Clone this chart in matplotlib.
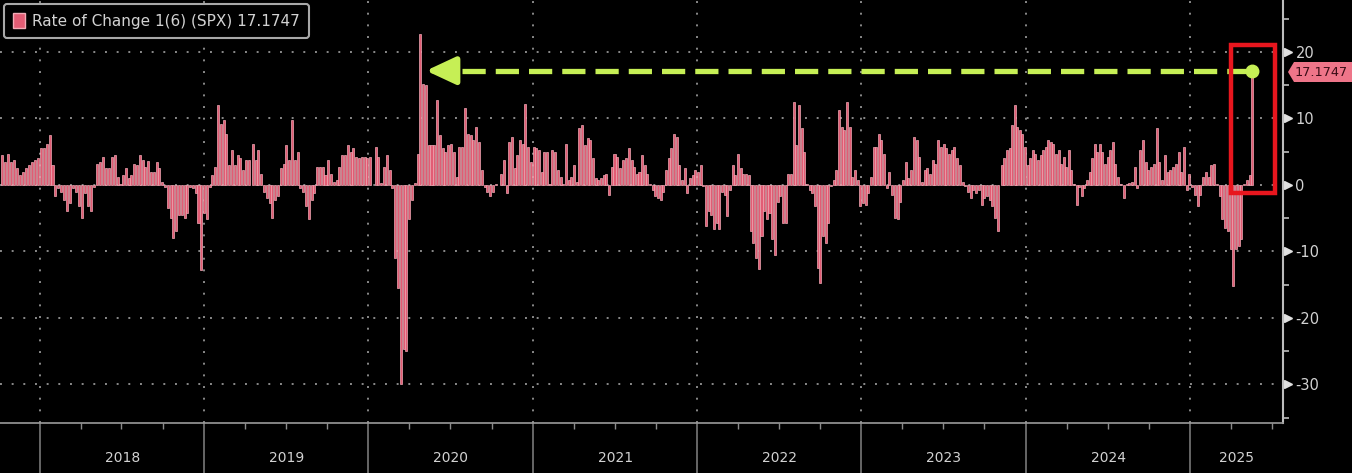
# 6-period rate of change of SPX, Bloomberg-style dark chart
import numpy as np
import pandas as pd
import matplotlib
matplotlib.use("Agg")
import matplotlib.pyplot as plt
import matplotlib.dates as mdates
import matplotlib.transforms as mtransforms
from matplotlib.patches import Patch, Rectangle, Polygon

plt.rcParams["axes.unicode_minus"] = False

# values, chunk by chunk (left to right)
roc_2017q4 = [4.5, 3.5, 4.7, 3.5, 3.7, 2.5, 1.5, 2.0, 2.5, 3.0, 3.5, 3.8, 4.0, 5.5, 5.5, 6.2, 7.5, 3.0,
              -1.7, -0.5, -1.0, -2.2, -4.0, -2.7, -0.5, -1.0, -3.2, -5.0, -1.2, -3.2, -4.0, -0.3,
              3.2, 3.5, 4.2, 2.5, 2.5, 4.2, 4.5, 1.2, 0.2, 1.5, 2.5]
roc_2018h2 = [1.0, 1.5, 3.2, 3.0, 4.5, 3.7, 2.7, 3.6, 2.0, 2.0, 3.5, 2.5, 0.5, -0.3, -3.5, -5.0, -8.0,
              -7.0, -4.5, -4.5, -5.0, -4.2, -0.3, -0.5, -1.2, -5.8, -12.8, -4.2, -5.2, -0.3, 1.5, 2.7,
              12.0, 9.2, 9.7, 7.7, 3.0, 5.2, 3.0, 4.5, 4.0, 2.2, 3.7, 3.7]
roc_2019 = [6.2, 3.7, 5.3, 1.7, -1.0, -2.0, -2.7, -5.0, -2.2, -1.7, 2.5, 3.2, 6.0, 3.7, 9.7, 3.7, 5.0,
            -0.5, -1.0, -3.2, -5.2, -2.2, -1.2, 2.7, 2.7, 2.7, 1.5, 3.7, 1.7, 0.5, 0.7, 2.7, 4.5, 4.5,
            6.0, 5.0, 5.5, 4.2, 4.0, 4.2, 4.2, 4.0, 4.2]
roc_2020 = [5.7, 4.2, 0.3, 2.7, 4.5, 2.2, -0.5, -11.0, -15.5, -30.0, -24.7, -25.0, -5.2, -2.2, 0.3,
            4.7, 22.7, 15.2, 15.0, 6.0, 6.0, 6.0, 12.7, 7.5, 5.5, 5.0, 6.0, 6.2, 5.0, 1.2, 5.7, 5.7,
            11.5, 7.7, 7.5, 6.7, 8.7, 6.5, 2.2, -0.3, -1.0, -1.7, -1.0, 0.2]
roc_2021h1 = [1.7, 3.8, -1.2, 6.5, 7.2, 2.5, 4.5, 6.7, 6.2, 12.2, 5.7, 3.5, 5.7, 5.5, 5.2, 2.0, 5.0,
              5.0, 0.2, 5.2, 5.0, 2.2, 1.2, 0.2, 6.2, 0.7, 1.2, 3.0, 0.5, 8.5, 9.0, 6.0, 7.0, 6.7,
              4.0, 1.0, 0.7, 1.0, 1.5, 1.7, -1.5, 2.7, 4.7, 4.2, 2.5, 3.7]
roc_2021h2 = [4.0, 5.5, 3.7, 2.7, 1.7, 2.0, 4.5, 3.0, 1.7, 0.2, -0.7, -1.7, -2.0, -2.2, -1.0, 2.2, 4.0,
              5.5, 7.7, 7.2, 3.0, 0.7, 2.5, -1.2, 1.0, 1.5, 2.2, 2.0, 3.0, -0.2, -6.2, -4.0, -4.5,
              -6.7, -5.7, -6.7, -1.0, -1.5, -4.7, -0.7, 3.0, 1.5, 4.7, 2.5, 1.7, 1.7, 1.5]
roc_2022 = [-7.0, -8.7, -11.0, -12.7, -7.7, -4.0, -5.2, -4.2, -8.2, -10.5, -2.5, -1.7, -5.7, -5.7,
            1.7, 1.7, 12.5, 6.0, 12.0, 8.5, 5.0, 0.2, -0.7, -1.2, -3.2, -12.5, -14.7, -7.7, -8.7,
            -5.7, -0.2, 0.7, 2.2, 11.2, 8.7, 8.2, 12.5, 8.7, 1.2, 2.2, 0.7, -3.2, -2.7, -3.0, -1.2,
            1.2, 5.7]
roc_2023 = [5.7, 7.7, 6.7, 4.7, -0.5, 2.0, -1.5, -5.0, -5.2, -2.5, 0.7, 3.5, 1.0, 2.2, 7.2, 6.7, 4.2,
            0.5, 2.2, 2.5, 1.7, 3.7, 3.2, 6.7, 5.7, 6.2, 5.5, 4.7, 5.2, 5.7, 4.0, 3.0, 0.5, -0.2,
            -1.0, -2.0, -0.7, -1.2, -0.7, -3.0, -2.0, -1.7, -2.2, -3.2, -5.0, -7.0]
roc_2024h1 = [3.0, 4.0, 5.2, 5.5, 9.0, 12.0, 8.7, 8.2, 7.7, 5.7, 3.0, 4.0, 5.2, 4.7, 3.7, 4.5, 5.2,
              5.7, 6.7, 6.5, 6.2, 4.7, 5.2, 3.2, 4.2, 2.7, 5.2, 2.2, 0.2, -3.0, -0.3, -1.7, -0.5,
              0.7, 2.0, 4.0, 6.2, 5.0, 6.2, 5.0, 3.2, 4.2, 5.2, 6.5, 3.2, 1.2]
roc_2024h2 = [0.2, -2.0, 0.2, 0.3, 0.5, 2.7, -0.5, 5.2, 6.7, 3.5, 2.2, 2.7, 3.2, 8.5, 3.5, 0.7, 4.5,
              2.0, 2.2, 2.7, 3.2, 5.0, 2.0, 5.7, -0.7, 1.7, -0.3, -1.5, -3.2, -1.5, 1.2, 2.0, 1.2,
              3.0, 3.2, 0.2, -1.7, -5.2, -6.5, -7.0, -9.7, -15.2, -9.7, -9.2, -8.2, 0.2, 0.7, 1.5,
              17.1747]

chunks = [roc_2017q4, roc_2018h2, roc_2019, roc_2020, roc_2021h1,
          roc_2021h2, roc_2022, roc_2023, roc_2024h1, roc_2024h2]
# first / last observation date of each chunk
chunk_spans = [("2017-10-09", "2018-07-12"), ("2018-07-17", "2019-04-10"),
               ("2019-04-19", "2020-01-05"), ("2020-01-17", "2020-10-10"),
               ("2020-10-22", "2021-07-19"), ("2021-07-27", "2022-04-25"),
               ("2022-04-30", "2023-01-28"), ("2023-02-02", "2023-10-31"),
               ("2023-11-09", "2024-07-24"), ("2024-07-31", "2025-05-19")]

dates = pd.DatetimeIndex(np.concatenate(
    [pd.date_range(s, e, periods=len(v)).values for v, (s, e) in zip(chunks, chunk_spans)]))
roc = np.concatenate([np.array(v, dtype=float) for v in chunks])
last_val = roc[-1]
last_date = dates[-1]

PINK = "#e25c74"
GREEN = "#c6ef55"
GRID = "#8a8a8a"
TXT = "#d2d2d2"

fig = plt.figure(figsize=(13.52, 4.73), dpi=100, facecolor="black")
ax = fig.add_axes([0, 50 / 473, 1283 / 1352, 423 / 473], facecolor="black")

ax.bar(dates, roc, width=4.5, color=PINK, edgecolor="#f2aab6", linewidth=0.5, zorder=2)

ax.set_xlim(pd.Timestamp("2017-10-04"), pd.Timestamp("2025-07-26"))
ax.set_ylim(-35.8, 27.8)

# axes, ticks, grid
for s in ["left", "top"]:
    ax.spines[s].set_visible(False)
ax.spines["right"].set_color("#bdbdbd")
ax.spines["right"].set_linewidth(1.5)
ax.spines["bottom"].set_color("#9a9a9a")
ax.spines["bottom"].set_linewidth(1.2)

ax.yaxis.tick_right()
ax.set_yticks([-30, -20, -10, 0, 10, 20])
ax.set_yticks([-35, -25, -15, -5, 5, 15, 25], minor=True)
ax.tick_params(axis="y", which="major", direction="out", length=6, width=1.5,
               colors="#cfcfcf", labelsize=10.5, pad=3)
ax.tick_params(axis="y", which="minor", direction="out", length=4, width=1.2, colors="#bdbdbd")
for lab in ax.get_yticklabels():
    lab.set_color(TXT)

ax.xaxis.set_major_locator(mdates.YearLocator())
ax.xaxis.set_minor_locator(mdates.MonthLocator(bymonth=[4, 7, 10]))
ax.tick_params(axis="x", which="major", length=36, width=1.3, colors="#6e6e6e", labelbottom=False)
ax.tick_params(axis="x", which="minor", length=4, width=1.0, colors="#8a8a8a")

ax.set_axisbelow(True)
ax.grid(True, which="major", color=GRID, linestyle=(0, (1, 5)), linewidth=1.4)

# triangular tick heads on the right axis
ytr = mtransforms.blended_transform_factory(ax.transAxes, ax.transData)
ax.plot([1.004] * 6, [-30, -20, -10, 0, 10, 20], linestyle="none", marker=">", ms=6,
        color="#e0e0e0", transform=ytr, clip_on=False)

# year labels under the axis
xtr = mtransforms.blended_transform_factory(ax.transData, fig.transFigure)
xmax = ax.get_xlim()[1]
for yr in range(2018, 2026):
    start = mdates.date2num(pd.Timestamp(f"{yr}-01-01"))
    end = min(mdates.date2num(pd.Timestamp(f"{yr + 1}-01-01")), xmax)
    ax.text((start + end) / 2, 0.032, str(yr), transform=xtr, ha="center", va="center",
            color=TXT, fontsize=10)

# green dashed arrow back to the 2020 high
arrow_tip = pd.Timestamp("2020-05-08")
arrow_tail = pd.Timestamp("2020-07-08")
ax.annotate("", xy=(arrow_tip, last_val), xytext=(arrow_tail, last_val),
            arrowprops=dict(arrowstyle="-|>,head_length=0.9,head_width=0.42", color=GREEN,
                            lw=4, shrinkA=0, shrinkB=0, mutation_scale=20), zorder=4)
ax.plot([pd.Timestamp("2020-07-26"), last_date], [last_val, last_val], color=GREEN, lw=3.8,
        dashes=(4.4, 1.9), zorder=4, solid_capstyle="butt", dash_capstyle="butt")
ax.plot([last_date], [last_val], marker="o", ms=9, color=GREEN, zorder=5)

# red highlight box
box_x0 = mdates.date2num(pd.Timestamp("2025-04-01"))
box_x1 = mdates.date2num(pd.Timestamp("2025-07-09"))
ax.add_patch(Rectangle((box_x0, -1.2), box_x1 - box_x0, 22.25, fill=False,
                       edgecolor="#e8161e", linewidth=3.2, zorder=6))

# last value tag at the right
W, H = 1352, 473
tag = [(1288, 72), (1294, 62), (1352, 62), (1352, 82), (1294, 82)]
fig.patches.append(Polygon([(x / W, 1 - y / H) for x, y in tag], closed=True,
                           facecolor="#ee7589", edgecolor="none", transform=fig.transFigure))
fig.text(1295 / W, 1 - 72 / H, f"{last_val:.4f}", color="#3a0c16", fontsize=9.3,
         ha="left", va="center")

# legend
leg = ax.legend(handles=[Patch(facecolor=PINK, edgecolor="#f2aab6")],
                labels=[f"Rate of Change 1(6) (SPX) {last_val:.4f}"],
                loc="upper left", bbox_to_anchor=(0.0, 1.0), fontsize=11,
                handlelength=0.8, handleheight=1.1, handletextpad=0.45, borderpad=0.6,
                borderaxespad=0.25, fancybox=True, framealpha=1, facecolor="black",
                edgecolor="#a8a8a8")
leg.get_frame().set_linewidth(1.5)
for t in leg.get_texts():
    t.set_color(TXT)

fig.savefig("out.png", dpi=100, facecolor="black")
plt.close(fig)
